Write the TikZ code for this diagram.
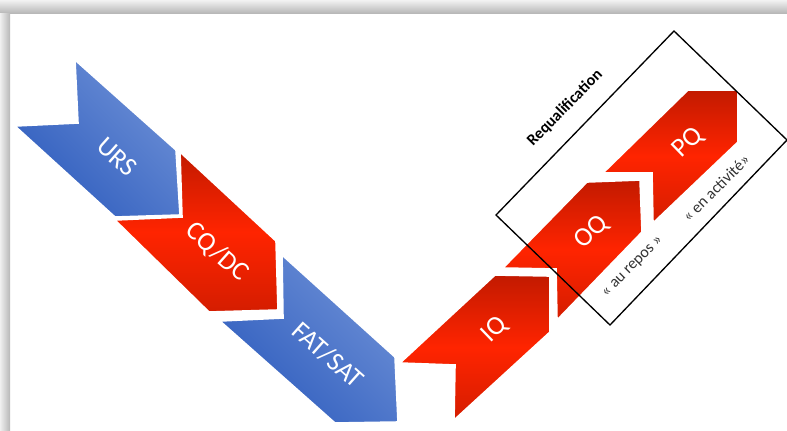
\documentclass[tikz,border=0pt]{standalone}
\usepackage{fontspec}
\setmainfont{Carlito}
\definecolor{chevblueA}{HTML}{6C8FD6}
\definecolor{chevblueB}{HTML}{2F5DBE}
\definecolor{chevredA}{HTML}{FF2400}
\definecolor{chevredB}{HTML}{C21A00}

\begin{document}
\begin{tikzpicture}[x=0.75pt,y=0.75pt,yscale=-1,xscale=1,
    bluechev/.style={draw=white,line width=1.2pt,top color=chevblueA,bottom color=chevblueB,shading angle=-45},
    redchev/.style={draw=white,line width=1.2pt,top color=chevredB,bottom color=chevredB!70!chevredA,middle color=chevredA},
    chevlabel/.style={text=white,inner sep=0.75pt,font=\fontsize{20}{24}\selectfont},
    phaselabel/.style={text=black!80,inner sep=0.75pt,font=\fontsize{12}{14}\selectfont,rotate=45}]
\useasboundingbox (0,0) rectangle (787,430);

%Shape: Page shadow
\shade [top color=white!95!black,bottom color=white!72!black] (0,0) rectangle (787,13) ;
\shade [left color=white!94!black,right color=white!72!black] (0,13) rectangle (10,430) ;

%Shape: Chevron URS
\draw [bluechev] (75,60) -- (78,123) -- (15,126) -- (115,217) -- (180,215) -- (176,150) -- cycle ;
%Shape: Chevron CQ/DC
\draw [redchev] (180,152) -- (182,217) -- (115,220) -- (209,312) -- (278,310) -- (276,241) -- cycle ;
%Shape: Chevron FAT/SAT
\draw [bluechev] (282,255) -- (283,318) -- (220,321) -- (335,423) -- (398,422) -- (395,357) -- cycle ;

%Shape: Chevron IQ
\draw [redchev] (400,363) -- (455,365) -- (454,420) -- (550,332) -- (550,276) -- (495,275) -- cycle ;
%Shape: Chevron OQ
\draw [redchev] (503,268) -- (556,269) -- (557,320) -- (642,232) -- (640,180) -- (587,182) -- cycle ;
%Shape: Chevron PQ
\draw [redchev] (603,173) -- (652,173) -- (653,223) -- (738,142) -- (738,90) -- (688,90) -- cycle ;

%Shape: Rectangle
\draw [line width=1pt] (674,31) -- (787,140) -- (610,325) -- (496,215) -- cycle ;

% Text Node
\draw (117,157) node [chevlabel,rotate=-41.7] (urs) {URS};
% Text Node
\draw (217,252) node [chevlabel,rotate=-41.7] (cqdc) {CQ/DC};
% Text Node
\draw (328,355) node [chevlabel,rotate=-41.7] (fatsat) {FAT/SAT};
% Text Node
\draw (495,330) node [chevlabel,rotate=44] (iq) {IQ};
% Text Node
\draw (592,232) node [chevlabel,rotate=44] (oq) {OQ};
% Text Node
\draw (688,143) node [chevlabel,rotate=44] (pq) {PQ};
% Text Node
\draw (565,108) node [inner sep=0.75pt,font=\bfseries\fontsize{12}{14}\selectfont,rotate=45.5] (requal) {Requalification};
% Text Node
\draw (633,267) node [phaselabel] (repos) {« au repos »};
% Text Node
\draw (716,188) node [phaselabel] (activ) {« en activité»};
\end{tikzpicture}
\end{document}
